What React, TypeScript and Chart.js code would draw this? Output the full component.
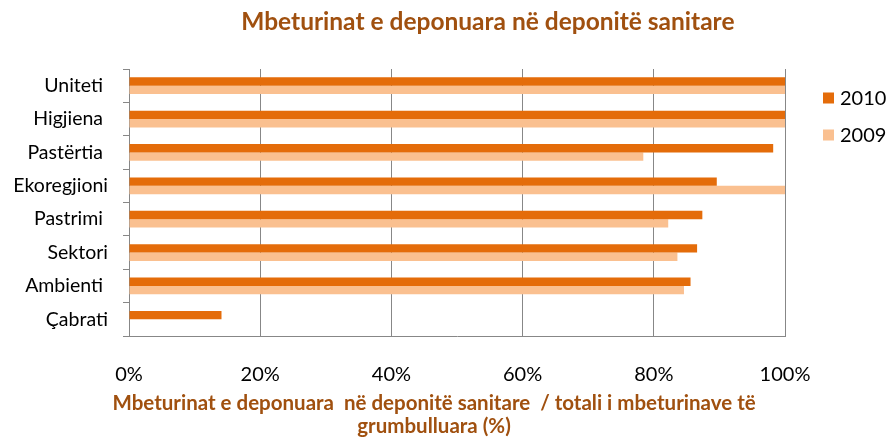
import React, { useEffect, useRef } from "react";
import { Chart, registerables } from "chart.js";

Chart.register(...registerables);

const categories = ["Uniteti ", "Higjiena ", "Pastërtia ", "Ekoregjioni", "Pastrimi ", "Sektori", "Ambienti ", "Çabrati"];
const series2010 = [100, 100, 98.2, 89.6, 87.4, 86.6, 85.6, 14.1];
const series2009 = [100, 100, 78.4, 100, 82.2, 83.6, 84.6, 0];
const seriesNames = ["2010", "2009"];
const xTicks = [0, 20, 40, 60, 80, 100];
const titleText = "Mbeturinat e deponuara në deponitë sanitare";
const xTitleLines = ["Mbeturinat e deponuara  në deponitë sanitare  / totali i mbeturinave të", "grumbulluara (%)"];

const COLORS = ["#E46C0A", "#FAC090"];
const TITLE_COLOR = "#A0500F";
const GRID = "#878787";
const FONT = "Lato";

const overlayPlugin = {
  id: "overlay",
  afterDraw(chart: any) {
    const ctx = chart.ctx;
    const ca = chart.chartArea;
    ctx.save();
    ctx.fillStyle = TITLE_COLOR;
    ctx.textAlign = "center";
    ctx.textBaseline = "alphabetic";
    ctx.font = `bold 24.5px ${FONT}`;
    ctx.fillText(titleText, ca.left + ca.width * 0.547, 30);
    ctx.font = `bold 20.5px ${FONT}`;
    const cx = ca.left + ca.width * 0.465;
    ctx.fillText(xTitleLines[0], cx, ca.bottom + 74);
    ctx.fillText(xTitleLines[1], cx, ca.bottom + 97);
    // legend
    ctx.textAlign = "left";
    ctx.textBaseline = "middle";
    ctx.font = `20px ${FONT}`;
    chart.data.datasets.forEach((ds: any, i: number) => {
      const y = ca.top + 29 + i * 37;
      ctx.fillStyle = ds.backgroundColor;
      ctx.fillRect(ca.right + 38, y - 5.5, 11, 11);
      ctx.fillStyle = "#000";
      ctx.fillText(ds.label, ca.right + 55, y + 1);
    });
    ctx.restore();
  },
};

export default function App() {
  const ref = useRef<HTMLCanvasElement>(null);
  useEffect(() => {
    document.body.style.margin = "0";
    const chart = new Chart(ref.current!, {
      type: "bar",
      data: {
        labels: categories,
        datasets: [
          { label: seriesNames[0], data: series2010, backgroundColor: COLORS[0], categoryPercentage: 0.5, barPercentage: 1 },
          { label: seriesNames[1], data: series2009, backgroundColor: COLORS[1], categoryPercentage: 0.5, barPercentage: 1 },
        ],
      },
      options: {
        indexAxis: "y",
        animation: false,
        responsive: false,
        layout: { padding: { left: 0, top: 69, right: 102, bottom: 0 } },
        plugins: { legend: { display: false }, title: { display: false }, tooltip: { enabled: false } },
        scales: {
          x: {
            min: 0,
            max: 100,
            afterBuildTicks: (s: any) => {
              s.ticks = xTicks.map((v) => ({ value: v }));
            },
            afterFit: (s: any) => {
              s.height = 102;
            },
            ticks: {
              padding: 27,
              color: "#000",
              font: { family: FONT, size: 20 },
              callback: (v: any) => `${v}%`,
            },
            grid: { color: GRID, lineWidth: 1, drawTicks: false },
            border: { display: true, color: GRID, width: 1 },
          },
          y: {
            afterFit: (s: any) => {
              s.width = 129;
            },
            ticks: { padding: 15, color: "#000", font: { family: FONT, size: 19.5 } },
            grid: { drawOnChartArea: false, drawTicks: true, tickLength: 6, color: GRID, offset: true },
            border: { display: true, color: GRID, width: 1 },
          },
        },
      },
      plugins: [overlayPlugin],
    });
    return () => chart.destroy();
  }, []);
  return (
    <div style={{ position: "fixed", left: 0, top: 0, width: 887, height: 438, background: "#fff" }}>
      <canvas ref={ref} width={887} height={438} />
    </div>
  );
}
